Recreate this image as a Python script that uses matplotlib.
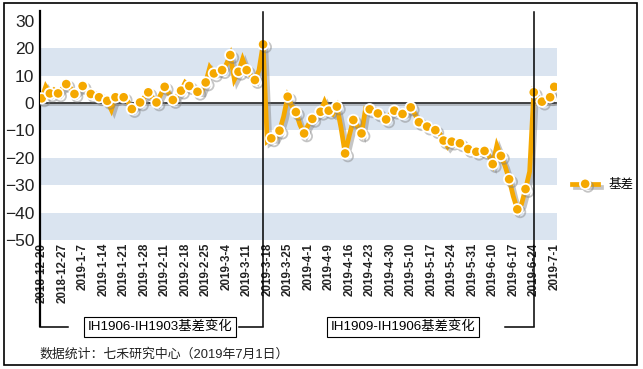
import numpy as np
import matplotlib
matplotlib.use("Agg")
import matplotlib.pyplot as plt
import matplotlib.patheffects as pe
from matplotlib.lines import Line2D
from matplotlib.patches import Rectangle

plt.rcParams['font.family'] = ['Liberation Sans', 'Noto Sans CJK SC']

# daily basis values (trading days 2018-12-20 .. 2019-7-1)
basis = [1.7, 6.0, 3.5, 4.8, 3.5, 5.2, 6.9, 5.5, 3.3, 4.5,
         6.2, 4.5, 3.3, 2.8, 2.1, 1.5, 0.8, -2.5, 2.1, 2.0,
         2.1, 0.5, -2.2, -1.0, 0.2, 2.0, 3.9, 2.0, 0.2, 3.0,
         5.9, 3.5, 1.1, 2.5, 4.5, 7.5, 6.2, 5.0, 4.1, 4.0,
         7.5, 13.0, 10.8, 11.0, 12.0, 14.0, 17.5, 8.5, 11.4, 16.0,
         12.0, 10.0, 8.4, 12.0, 21.4, -14.0, -12.9, -13.0, -10.1, -5.0,
         2.3, -1.0, -3.3, -8.0, -11.1, -8.0, -5.8, -4.5, -3.2, 0.5,
         -2.8, -4.0, -1.3, -9.0, -18.4, -12.0, -6.2, -8.5, -11.1, -2.0,
         -2.3, -2.5, -3.8, -5.0, -6.0, -4.0, -2.8, -3.0, -4.0, -3.5,
         -1.6, -4.0, -7.0, -8.0, -8.6, -9.0, -9.9, -11.0, -13.7, -16.0,
         -14.1, -14.5, -14.7, -16.0, -16.8, -17.0, -17.8, -18.0, -17.5, -19.0,
         -22.3, -15.5, -19.3, -23.0, -27.8, -34.0, -38.8, -37.0, -31.4, -25.0,
         3.9, 2.0, 0.5, 1.0, 2.1, 5.9]

tick_labels = ['2018-12-20', '2018-12-27', '2019-1-7', '2019-1-14', '2019-1-21',
               '2019-1-28', '2019-2-11', '2019-2-18', '2019-2-25', '2019-3-4',
               '2019-3-11', '2019-3-18', '2019-3-25', '2019-4-1', '2019-4-9',
               '2019-4-16', '2019-4-23', '2019-4-30', '2019-5-10', '2019-5-17',
               '2019-5-24', '2019-5-31', '2019-6-10', '2019-6-17', '2019-6-24',
               '2019-7-1']

switch_days = [54, 120]
box_texts = ['IH1906-IH1903基差变化', 'IH1909-IH1906基差变化']

orange = '#f5a800'
W, H = 643, 369

fig = plt.figure(figsize=(6.43, 3.69), dpi=100)
ax = fig.add_axes([40 / W, 1 - 240 / H, (556.7 - 40) / W, (240 - 20.8) / H])

x = np.arange(len(basis))
ax.set_xlim(-0.4, 125.6)
ax.set_ylim(-50, 30)

# alternating bands
for lo in [10, -10, -30, -50]:
    ax.axhspan(lo, lo + 10, color='#dae4f0', lw=0, zorder=0)
ax.axhline(0, color='#222222', lw=1.2, zorder=1,
           path_effects=[pe.SimpleLineShadow(offset=(0, -1.5), shadow_color='gray', alpha=0.5), pe.Normal()])

marks = list(range(0, len(basis), 2)) + [len(basis) - 1]
ax.plot(x, basis, color=orange, lw=3.4, marker='o', markersize=7.5,
        markerfacecolor=orange, markeredgecolor='white', markeredgewidth=1.3,
        markevery=marks, label='基差', zorder=3, solid_joinstyle='miter',
        path_effects=[pe.SimpleLineShadow(offset=(2, -2), shadow_color='gray', alpha=0.45), pe.Normal()])

for s in ax.spines.values():
    s.set_visible(False)

ax.set_yticks(np.arange(-50, 31, 10))
ax.tick_params(axis='y', length=0, pad=4, labelsize=12.5, labelcolor='#222222')
ax.set_xticks(np.arange(0, len(basis), 5))
ax.set_xticklabels(tick_labels, rotation=90, fontsize=8.4, fontweight='bold', color='#222222')
ax.tick_params(axis='x', length=0, pad=2)

# y axis line extended into the bracket
yb = (240 - 326) / (240 - 20.8)
ytop = (240 - 10.7) / (240 - 20.8)
ax.plot([-0.4, -0.4], [yb, ytop], color='black', lw=1.6,
        transform=ax.get_xaxis_transform(), clip_on=False)
for d in switch_days:
    ax.plot([d, d], [yb, (240 - 12) / (240 - 20.8)], color='black', lw=1.1,
            transform=ax.get_xaxis_transform(), clip_on=False, zorder=4)

# brackets
def fx(px):
    return px / W

def fy(py):
    return 1 - py / H

for x0, x1 in [(40, 68), (239, 263), (505, 534)]:
    fig.add_artist(Line2D([fx(x0), fx(x1)], [fy(326.5), fy(326.5)], color='black', lw=1.1))

box_style = dict(boxstyle='square,pad=0.3', fc='white', ec='black', lw=0.8)
fig.text(fx(160), fy(327), box_texts[0], ha='center', va='center', fontsize=9.6, bbox=box_style)
fig.text(fx(403), fy(327), box_texts[1], ha='center', va='center', fontsize=9.6, bbox=box_style)

fig.text(fx(39), fy(354), '数据统计：七禾研究中心（2019年7月1日）', ha='left', va='center',
         fontsize=9.3, color='#222222')

ax.legend(loc='center left', bbox_to_anchor=(1.02, 0.25), frameon=False, fontsize=9,
          handlelength=2.1, borderaxespad=0)

fig.add_artist(Rectangle((fx(4), fy(365)), fx(637) - fx(4), fy(3.3) - fy(365),
                         fill=False, ec='black', lw=1.2, transform=fig.transFigure))

fig.savefig('out.png', dpi=100)
